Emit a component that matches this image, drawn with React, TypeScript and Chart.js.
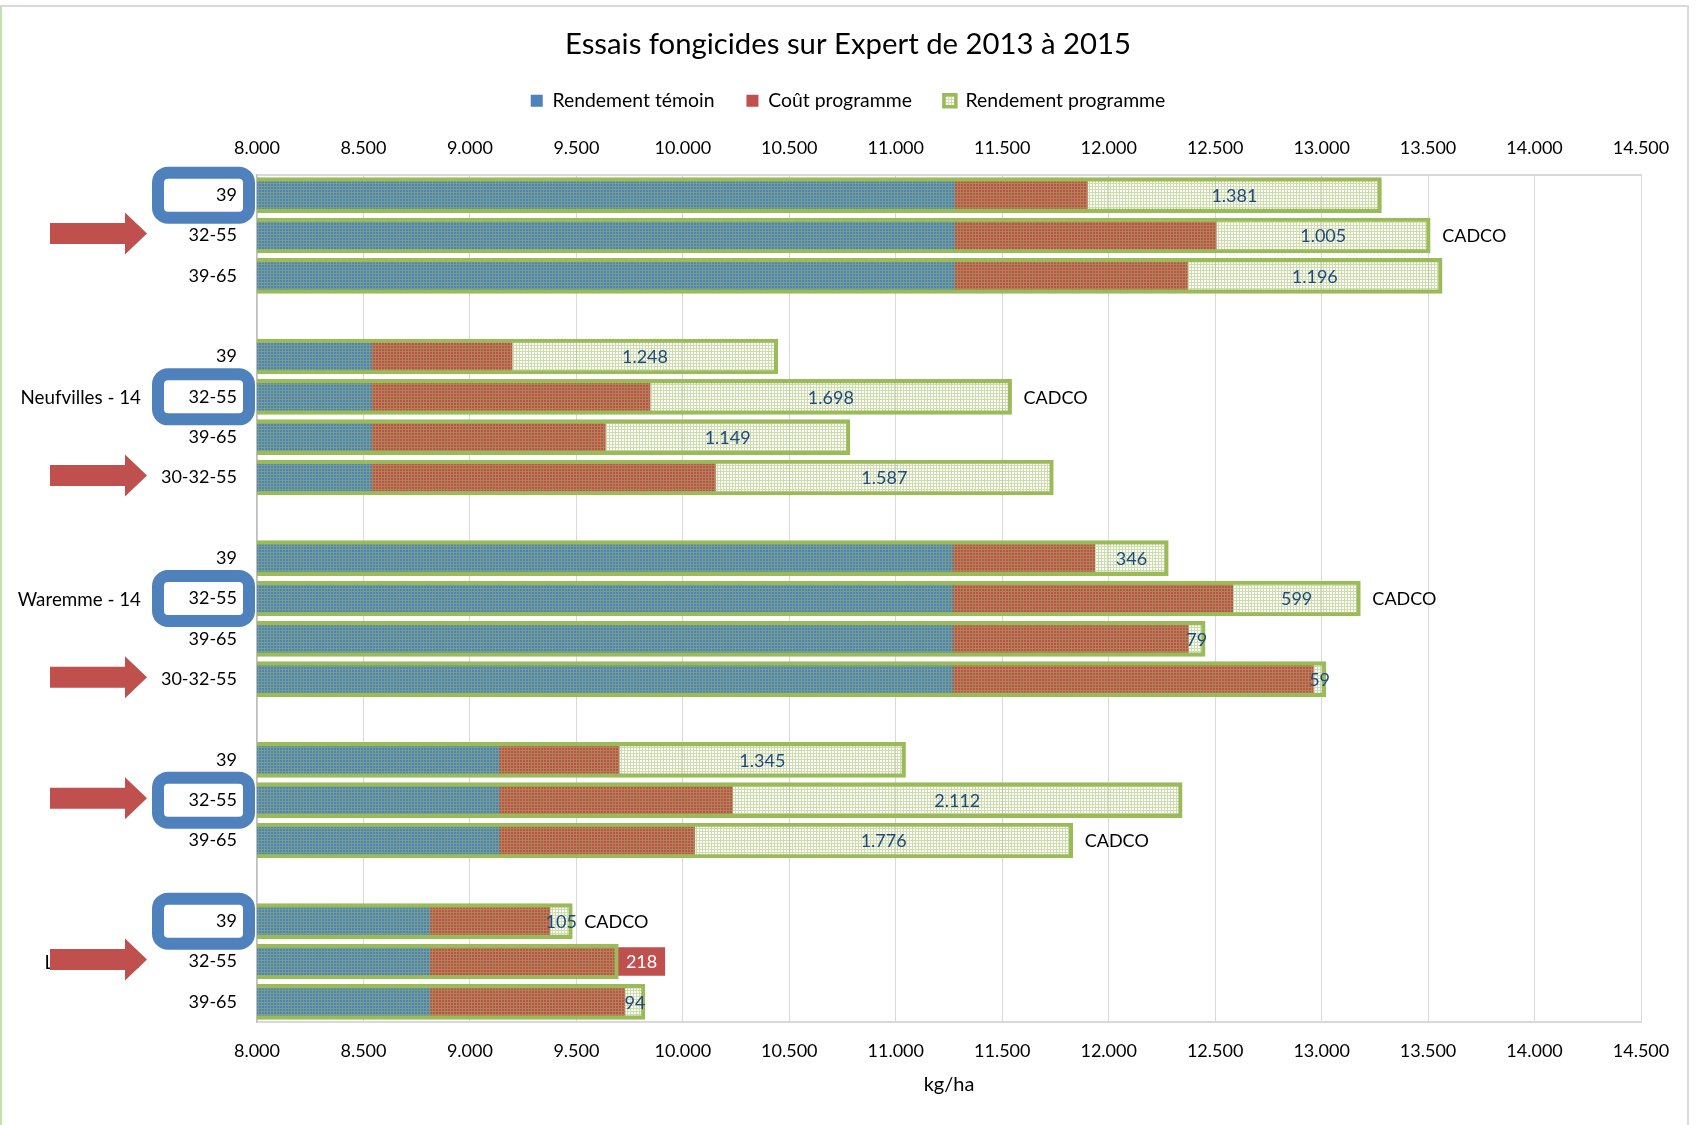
import React, { useEffect, useRef } from 'react';
import { Chart, registerables } from 'chart.js';

Chart.register(...registerables);

const FONT = 'Lato';

// Rows (blank rows separate the trial groups)
const categories = [
  '39', '32-55', '39-65', '',
  '39', '32-55', '39-65', '30-32-55', '',
  '39', '32-55', '39-65', '30-32-55', '',
  '39', '32-55', '39-65', '',
  '39', '32-55', '39-65',
];
const groupLabels = [
  '', '', '', '',
  '', 'Neufvilles - 14', '', '', '',
  '', 'Waremme - 14', '', '', '',
  '', '', '', '',
  '', 'Lonzée - 15', '',
];
// kg/ha
const rendementTemoin = [
  11280, 11280, 11280, null,
  8540, 8540, 8540, 8540, null,
  11270, 11270, 11270, 11270, null,
  9140, 9140, 9140, null,
  8815, 8815, 8815,
];
const coutProgramme = [
  620, 1225, 1090, null,
  658, 1306, 1096, 1613, null,
  664, 1313, 1104, 1691, null,
  561, 1093, 915, null,
  561, 1100, 913,
];
const rendementProgramme = [
  13281, 13510, 13566, null,
  10446, 11544, 10785, 11740, null,
  12280, 13182, 12453, 13020, null,
  11046, 12345, 11831, null,
  9481, 9697, 9822,
];
const xMin = 8000;
const xMax = 14500;
const xStep = 500;
const cadcoRows = [1, 5, 10, 16, 18];
const boxedRows = [0, 5, 10, 15, 18];
const arrowRows = [1, 7, 12, 15, 19];

const BLUE = '#4f81bd';
const RED = '#c0504d';
const GREEN = '#9bbb59';
const LABEL_BLUE = '#1f497d';

const fmt = (v: number) => String(Math.round(v)).replace(/\B(?=(\d{3})+(?!\d))/g, '.');

function makePattern(ctx: CanvasRenderingContext2D) {
  const c = document.createElement('canvas');
  c.width = 3;
  c.height = 3;
  const p = c.getContext('2d')!;
  p.fillStyle = 'rgba(155,187,89,0.5)';
  p.fillRect(0, 0, 3, 1);
  p.fillRect(0, 1, 1, 2);
  return ctx.createPattern(c, 'repeat')!;
}

const overlayPlugin = {
  id: 'overlay',
  beforeDraw(chart: any) {
    const { ctx, width, height } = chart;
    ctx.save();
    ctx.fillStyle = '#ffffff';
    ctx.fillRect(0, 0, width, height);
    ctx.strokeStyle = '#d9d9d9';
    ctx.lineWidth = 2;
    ctx.beginPath();
    ctx.moveTo(0, 6);
    ctx.lineTo(1688, 6);
    ctx.lineTo(1688, height);
    ctx.stroke();
    ctx.strokeStyle = '#c5e0b0';
    ctx.beginPath();
    ctx.moveTo(1, 6);
    ctx.lineTo(1, height);
    ctx.stroke();
    ctx.restore();
  },
  afterDatasetsDraw(chart: any) {
    const { ctx } = chart;
    const xs = chart.scales.x;
    const ys = chart.scales.y;
    ctx.save();
    ctx.font = `18px ${FONT}`;
    ctx.textBaseline = 'middle';
    categories.forEach((_, i) => {
      const t = rendementTemoin[i];
      const c = coutProgramme[i];
      const p = rendementProgramme[i];
      if (t == null || c == null || p == null) return;
      const y = ys.getPixelForValue(i);
      const redEnd = t + c;
      const gain = p - redEnd;
      const cx = xs.getPixelForValue((p + redEnd) / 2);
      ctx.textAlign = 'center';
      ctx.fillStyle = gain < 0 ? '#ffffff' : LABEL_BLUE;
      ctx.fillText(fmt(Math.abs(gain)), cx, y + 1);
      if (cadcoRows.includes(i)) {
        ctx.textAlign = 'left';
        ctx.fillStyle = '#000000';
        ctx.fillText('CADCO', xs.getPixelForValue(p) + 12, y + 1);
      }
    });
    ctx.restore();
  },
  afterDraw(chart: any) {
    const { ctx } = chart;
    const ys = chart.scales.y;
    ctx.save();
    ctx.font = `18.8px ${FONT}`;
    ctx.textBaseline = 'middle';
    ctx.textAlign = 'right';
    ctx.fillStyle = '#000000';
    groupLabels.forEach((g, i) => {
      if (!g) return;
      ctx.fillText(g, 141, ys.getPixelForValue(i) + 1);
    });
    // blue rounded frames
    ctx.strokeStyle = BLUE;
    ctx.lineWidth = 12;
    boxedRows.forEach((i) => {
      const y = ys.getPixelForValue(i);
      ctx.beginPath();
      (ctx as any).roundRect(158, y - 22.5, 91, 45, 10);
      ctx.stroke();
    });
    // red arrows
    ctx.fillStyle = RED;
    arrowRows.forEach((i) => {
      const y = ys.getPixelForValue(i) - 2;
      ctx.beginPath();
      ctx.moveTo(50, y - 10.5);
      ctx.lineTo(125, y - 10.5);
      ctx.lineTo(125, y - 21);
      ctx.lineTo(147, y);
      ctx.lineTo(125, y + 21);
      ctx.lineTo(125, y + 10.5);
      ctx.lineTo(50, y + 10.5);
      ctx.closePath();
      ctx.fill();
    });
    ctx.restore();
  },
};

export default function App() {
  const ref = useRef<HTMLCanvasElement | null>(null);

  useEffect(() => {
    document.body.style.margin = '0';
    document.body.style.overflow = 'hidden';
    const canvas = ref.current!;
    const ctx = canvas.getContext('2d')!;
    const pattern = makePattern(ctx);

    const tickFont = { family: FONT, size: 18 };
    const makeTicks = (padding: number) => ({
      min: xMin,
      max: xMax,
      stepSize: xStep,
      color: '#000000',
      font: tickFont,
      padding,
      maxRotation: 0,
      callback: (v: any) => fmt(Number(v)),
    });

    const chart = new Chart(ctx, {
      type: 'bar',
      data: {
        labels: categories,
        datasets: [
          {
            label: 'Rendement témoin',
            data: rendementTemoin as any,
            backgroundColor: BLUE,
            barThickness: 28,
            grouped: false,
            order: 2,
          } as any,
          {
            label: 'Coût programme',
            data: rendementTemoin.map((t, i) =>
              t == null || coutProgramme[i] == null ? null : [t, t + (coutProgramme[i] as number)]
            ) as any,
            backgroundColor: RED,
            barThickness: 28,
            grouped: false,
            order: 1,
          } as any,
          {
            label: 'Rendement programme',
            data: rendementProgramme as any,
            backgroundColor: pattern as any,
            borderColor: GREEN,
            borderWidth: 3.5,
            borderSkipped: false,
            barThickness: 35,
            grouped: false,
            order: 0,
          } as any,
        ],
      },
      options: {
        indexAxis: 'y',
        responsive: false,
        animation: false,
        devicePixelRatio: 1,
        layout: { padding: { top: 0, right: 0, bottom: 0, left: 0 } },
        plugins: {
          tooltip: { enabled: false },
          title: {
            display: true,
            text: 'Essais fongicides sur Expert de 2013 à 2015',
            color: '#000000',
            font: { family: FONT, size: 29.3, weight: 'normal' },
            padding: { top: 27, bottom: -3 },
          },
          legend: {
            display: true,
            position: 'top',
            labels: {
              color: '#000000',
              font: { family: FONT, size: 19.4 },
              boxWidth: 12,
              boxHeight: 12,
              padding: 32,
              sort: (a: any, b: any) => a.datasetIndex - b.datasetIndex,
            },
          },
        },
        scales: {
          x: {
            type: 'linear',
            position: 'bottom',
            min: xMin,
            max: xMax,
            ticks: makeTicks(18) as any,
            grid: { color: '#d9d9d9', lineWidth: 1, drawTicks: false },
            border: { display: true, color: '#d9d9d9', width: 2 },
            title: {
              display: true,
              text: 'kg/ha',
              color: '#000000',
              font: { family: FONT, size: 20 },
              padding: { top: 0, bottom: 28 },
            },
            afterFit: (s: any) => {
              s.height = 1125 - 1022;
            },
          },
          x2: {
            type: 'linear',
            position: 'top',
            min: xMin,
            max: xMax,
            ticks: makeTicks(16) as any,
            grid: { display: false, drawTicks: false },
            border: { display: true, color: '#d9d9d9', width: 2 },
            afterFit: (s: any) => {
              const c = s.chart;
              const th = c.titleBlock ? c.titleBlock.height : 0;
              const lh = c.legend ? c.legend.height : 0;
              s.height = Math.max(10, 175 - th - lh);
            },
          },
          y: {
            type: 'category',
            position: 'left',
            offset: true,
            grid: { display: false, drawTicks: false },
            border: { display: true, color: '#bfbfbf', width: 1.5 },
            ticks: {
              color: '#000000',
              font: tickFont,
              padding: 20,
              autoSkip: false,
            },
            afterFit: (s: any) => {
              s.width = 257;
            },
          },
          yRight: {
            type: 'category',
            position: 'right',
            grid: { display: false, drawTicks: false },
            border: { display: false },
            ticks: { display: false },
            afterFit: (s: any) => {
              s.width = 55;
            },
          },
        },
      } as any,
      plugins: [overlayPlugin],
    });

    return () => chart.destroy();
  }, []);

  return <canvas ref={ref} width={1696} height={1125} style={{ display: 'block' }} />;
}
